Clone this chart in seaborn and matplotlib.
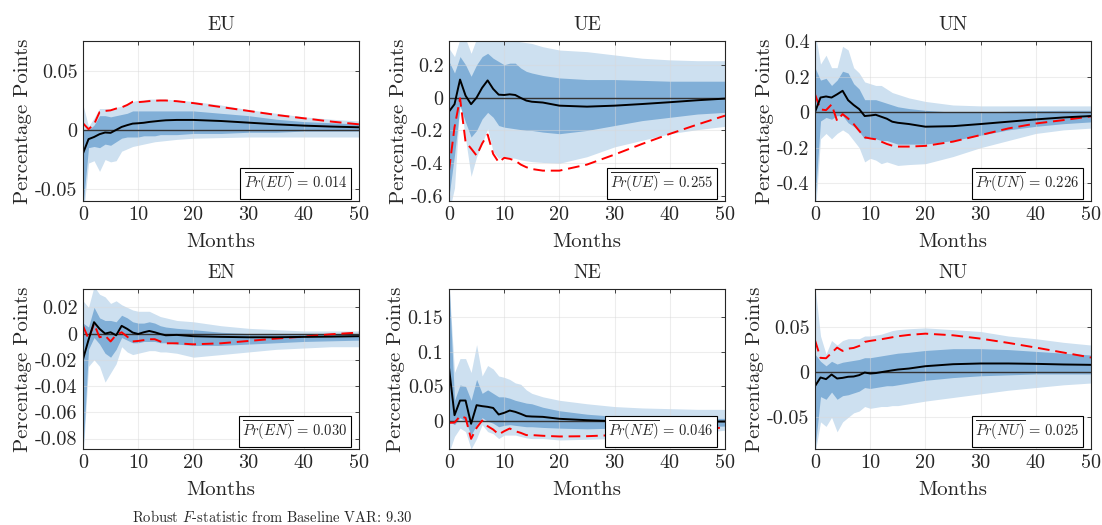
import numpy as np
import pandas as pd
import matplotlib
matplotlib.use("Agg")
import matplotlib.pyplot as plt
from matplotlib.ticker import FuncFormatter, FixedLocator
import seaborn as sns

sns.set_style("white")
plt.rcParams['font.family'] = ['cmr10', 'DejaVu Serif']
plt.rcParams['mathtext.fontset'] = 'cm'
plt.rcParams['axes.unicode_minus'] = False
plt.rcParams['axes.formatter.use_mathtext'] = False

months = [0, 1, 2, 3, 4, 5, 6, 7, 8, 9, 10, 11, 12, 13, 14, 15, 17, 20, 25, 30, 35, 40, 45, 50]
panels = ["EU", "UE", "UN", "EN", "NE", "NU"]
prob_values = ["0.014", "0.255", "0.226", "0.030", "0.046", "0.025"]

# ---- EU ----
eu_median = [-0.0198, -0.0078, -0.006, -0.0036, -0.0022, -0.0025, 0.0, 0.0025, 0.004, 0.0053, 0.0056, 0.006, 0.0067, 0.0072, 0.0077, 0.0081, 0.0084, 0.0084, 0.0075, 0.0061, 0.0047, 0.0036, 0.0028, 0.0022]
eu_alt = [0.0056, 0.0006, 0.0047, 0.015, 0.016, 0.0165, 0.018, 0.019, 0.021, 0.0237, 0.0234, 0.0238, 0.0243, 0.0246, 0.0248, 0.0248, 0.0242, 0.0226, 0.0193, 0.016, 0.0126, 0.0098, 0.007, 0.0047]
eu_outer_hi = [0.021, 0.003, 0.010, 0.018, 0.018, 0.017, 0.019, 0.020, 0.022, 0.024, 0.025, 0.025, 0.026, 0.026, 0.026, 0.026, 0.025, 0.024, 0.021, 0.017, 0.014, 0.011, 0.009, 0.0075]
eu_outer_lo = [-0.075, -0.028, -0.026, -0.035, -0.025, -0.027, -0.026, -0.018, -0.016, -0.014, -0.013, -0.012, -0.011, -0.010, -0.0095, -0.009, -0.008, -0.007, -0.0065, -0.006, -0.006, -0.006, -0.006, -0.006]
eu_inner_hi = [0.0, 0.0, 0.004, 0.012, 0.012, 0.011, 0.012, 0.013, 0.014, 0.016, 0.016, 0.016, 0.016, 0.016, 0.016, 0.016, 0.016, 0.016, 0.014, 0.012, 0.009, 0.007, 0.006, 0.005]
eu_inner_lo = [-0.065, -0.015, -0.014, -0.015, -0.012, -0.013, -0.010, -0.007, -0.006, -0.006, -0.006, -0.005, -0.005, -0.005, -0.004, -0.004, -0.004, -0.003, -0.003, -0.002, -0.002, -0.001, -0.001, -0.001]

# ---- UE ----
ue_median = [-0.085, -0.04, 0.11, 0.012, -0.04, 0.0, 0.06, 0.105, 0.053, 0.018, 0.016, 0.02, 0.016, -0.002, -0.018, -0.025, -0.03, -0.049, -0.055, -0.049, -0.039, -0.028, -0.016, -0.006]
ue_alt = [-0.445, -0.18, -0.004, -0.27, -0.31, -0.353, -0.28, -0.225, -0.343, -0.394, -0.367, -0.373, -0.384, -0.408, -0.424, -0.435, -0.445, -0.445, -0.408, -0.347, -0.282, -0.221, -0.164, -0.11]
ue_outer_hi = [0.30, 0.25, 0.36, 0.36, 0.27, 0.36, 0.36, 0.36, 0.36, 0.36, 0.36, 0.36, 0.345, 0.34, 0.335, 0.33, 0.31, 0.29, 0.28, 0.26, 0.24, 0.23, 0.225, 0.225]
ue_outer_lo = [-0.7, -0.55, -0.02, -0.25, -0.48, -0.36, -0.28, -0.19, -0.33, -0.37, -0.36, -0.365, -0.37, -0.38, -0.385, -0.39, -0.395, -0.40, -0.36, -0.30, -0.26, -0.22, -0.195, -0.175]
ue_inner_hi = [0.22, 0.15, 0.25, 0.20, 0.13, 0.20, 0.25, 0.27, 0.24, 0.22, 0.20, 0.21, 0.21, 0.18, 0.16, 0.15, 0.135, 0.12, 0.11, 0.11, 0.105, 0.10, 0.10, 0.10]
ue_inner_lo = [-0.6, -0.35, -0.05, -0.15, -0.24, -0.20, -0.13, -0.09, -0.12, -0.17, -0.18, -0.185, -0.19, -0.195, -0.20, -0.20, -0.21, -0.22, -0.20, -0.17, -0.14, -0.12, -0.10, -0.09]

# ---- UN ----
un_median = [0.0, 0.082, 0.088, 0.082, 0.1, 0.12, 0.067, 0.04, 0.017, -0.022, -0.019, -0.015, -0.026, -0.037, -0.054, -0.06, -0.067, -0.082, -0.079, -0.067, -0.054, -0.041, -0.03, -0.022]
un_alt = [0.1, 0.015, 0.011, 0.043, -0.049, -0.011, -0.036, -0.067, -0.105, -0.142, -0.148, -0.153, -0.166, -0.179, -0.189, -0.194, -0.194, -0.19, -0.166, -0.129, -0.092, -0.064, -0.045, -0.024]
un_outer_hi = [0.45, 0.27, 0.32, 0.25, 0.25, 0.37, 0.35, 0.25, 0.22, 0.17, 0.16, 0.15, 0.15, 0.13, 0.11, 0.10, 0.08, 0.06, 0.04, 0.035, 0.035, 0.035, 0.035, 0.035]
un_outer_lo = [-0.6, -0.15, -0.12, -0.15, -0.12, -0.10, -0.12, -0.16, -0.20, -0.28, -0.26, -0.27, -0.29, -0.28, -0.29, -0.30, -0.295, -0.29, -0.25, -0.20, -0.16, -0.12, -0.10, -0.09]
un_inner_hi = [0.25, 0.18, 0.19, 0.15, 0.18, 0.23, 0.22, 0.16, 0.13, 0.07, 0.07, 0.07, 0.06, 0.05, 0.04, 0.03, 0.02, 0.01, 0.0, 0.0, 0.005, 0.008, 0.01, 0.01]
un_inner_lo = [-0.5, -0.05, -0.03, -0.04, -0.02, -0.02, -0.06, -0.08, -0.11, -0.15, -0.14, -0.15, -0.16, -0.16, -0.17, -0.18, -0.18, -0.18, -0.16, -0.13, -0.10, -0.08, -0.065, -0.055]

# ---- EN ----
en_median = [-0.0196, -0.0048, 0.0087, 0.0036, 0.0, 0.001, -0.0013, 0.0059, 0.0036, 0.0008, -0.0003, 0.001, 0.002, 0.001, -0.0003, -0.0013, -0.001, -0.002, -0.0025, -0.0028, -0.0028, -0.0025, -0.0023, -0.002]
en_alt = [0.0059, -0.004, 0.0074, -0.0028, -0.0015, -0.006, -0.001, 0.001, -0.0023, -0.006, -0.0056, -0.005, -0.0043, -0.0043, -0.006, -0.0074, -0.0074, -0.0082, -0.0074, -0.0056, -0.0038, -0.0023, -0.0005, 0.0008]
en_outer_hi = [0.025, 0.02, 0.036, 0.03, 0.028, 0.023, 0.025, 0.022, 0.02, 0.018, 0.017, 0.017, 0.017, 0.015, 0.013, 0.012, 0.01, 0.009, 0.006, 0.004, 0.003, 0.002, 0.002, 0.002]
en_outer_lo = [-0.095, -0.025, -0.02, -0.025, -0.037, -0.03, -0.023, -0.01, -0.014, -0.016, -0.015, -0.014, -0.013, -0.013, -0.014, -0.014, -0.015, -0.018, -0.016, -0.014, -0.012, -0.011, -0.010, -0.010]
en_inner_hi = [0.008, 0.005, 0.02, 0.012, 0.01, 0.01, 0.009, 0.014, 0.012, 0.009, 0.008, 0.008, 0.009, 0.008, 0.006, 0.005, 0.004, 0.003, 0.001, 0.0, 0.0, 0.0, 0.0, 0.0]
en_inner_lo = [-0.09, -0.012, -0.003, -0.008, -0.015, -0.018, -0.012, -0.003, -0.005, -0.007, -0.007, -0.006, -0.006, -0.006, -0.007, -0.007, -0.008, -0.009, -0.009, -0.008, -0.007, -0.006, -0.0055, -0.005]

# ---- NE ----
ne_median = [0.077, 0.0086, 0.0297, 0.0297, -0.0038, 0.023, 0.0216, 0.0206, 0.019, 0.0096, 0.012, 0.0153, 0.0134, 0.0105, 0.0072, 0.0067, 0.0062, 0.0034, 0.0014, 0.0, -0.0005, -0.0005, -0.0005, -0.0005]
ne_alt = [-0.0024, -0.002, 0.0072, 0.0048, -0.0254, -0.0096, 0.001, -0.0072, -0.012, -0.019, -0.0144, -0.0105, -0.0144, -0.0168, -0.02, -0.02, -0.021, -0.022, -0.0216, -0.02, -0.019, -0.017, -0.0134, -0.0086]
ne_outer_hi = [0.20, 0.07, 0.09, 0.09, 0.07, 0.11, 0.065, 0.08, 0.075, 0.065, 0.063, 0.06, 0.055, 0.053, 0.045, 0.04, 0.035, 0.03, 0.025, 0.021, 0.019, 0.018, 0.017, 0.017]
ne_outer_lo = [-0.045, -0.022, -0.01, -0.015, -0.04, -0.025, -0.005, -0.015, -0.018, -0.025, -0.02, -0.02, -0.02, -0.022, -0.024, -0.025, -0.025, -0.027, -0.026, -0.025, -0.023, -0.02, -0.017, -0.013]
ne_inner_hi = [0.20, 0.03, 0.052, 0.05, 0.03, 0.06, 0.04, 0.045, 0.04, 0.035, 0.035, 0.033, 0.03, 0.028, 0.026, 0.025, 0.02, 0.015, 0.01, 0.007, 0.005, 0.005, 0.004, 0.004]
ne_inner_lo = [0.0, -0.005, 0.005, 0.0, -0.02, -0.005, 0.005, 0.0, -0.003, -0.008, -0.006, -0.005, -0.006, -0.007, -0.008, -0.008, -0.009, -0.01, -0.011, -0.01, -0.01, -0.009, -0.008, -0.007]

# ---- NU ----
nu_median = [-0.0154, -0.0059, -0.0077, -0.0026, -0.007, -0.0063, -0.0051, -0.0048, -0.0033, -0.0004, -0.0015, -0.001, 0.0, 0.001, 0.002, 0.0029, 0.004, 0.0066, 0.0088, 0.0096, 0.0096, 0.0092, 0.0085, 0.0081]
nu_alt = [0.0353, 0.0158, 0.0154, 0.0213, 0.0272, 0.0235, 0.026, 0.0268, 0.029, 0.0335, 0.0346, 0.0355, 0.0364, 0.0375, 0.0386, 0.0397, 0.0412, 0.0426, 0.0408, 0.0371, 0.0324, 0.0272, 0.0217, 0.0162]
nu_outer_hi = [0.095, 0.04, 0.02, 0.035, 0.03, 0.035, 0.037, 0.037, 0.037, 0.04, 0.04, 0.041, 0.042, 0.044, 0.046, 0.047, 0.048, 0.049, 0.047, 0.045, 0.04, 0.037, 0.033, 0.03]
nu_outer_lo = [-0.09, -0.055, -0.06, -0.05, -0.066, -0.055, -0.05, -0.045, -0.043, -0.038, -0.04, -0.039, -0.038, -0.038, -0.037, -0.037, -0.035, -0.032, -0.028, -0.024, -0.02, -0.017, -0.014, -0.012]
nu_inner_hi = [0.02, 0.012, 0.007, 0.012, 0.009, 0.011, 0.012, 0.013, 0.014, 0.016, 0.016, 0.017, 0.018, 0.019, 0.02, 0.021, 0.022, 0.024, 0.026, 0.026, 0.025, 0.023, 0.021, 0.019]
nu_inner_lo = [-0.085, -0.027, -0.03, -0.022, -0.03, -0.026, -0.025, -0.023, -0.021, -0.017, -0.018, -0.017, -0.016, -0.015, -0.015, -0.014, -0.012, -0.009, -0.006, -0.004, -0.003, -0.002, -0.002, -0.002]

y_limits = {"EU": (-0.06, 0.075), "UE": (-0.63, 0.345), "UN": (-0.5, 0.4),
            "EN": (-0.088, 0.034), "NE": (-0.04, 0.19), "NU": (-0.085, 0.092)}
y_ticks = {"EU": [-0.05, 0, 0.05], "UE": [-0.6, -0.4, -0.2, 0, 0.2],
           "UN": [-0.4, -0.2, 0, 0.2, 0.4], "EN": [-0.08, -0.06, -0.04, -0.02, 0, 0.02],
           "NE": [0, 0.05, 0.1, 0.15], "NU": [-0.05, 0, 0.05]}
x_ticks = [0, 10, 20, 30, 40, 50]

series = {
    "EU": (eu_median, eu_alt, eu_outer_lo, eu_outer_hi, eu_inner_lo, eu_inner_hi),
    "UE": (ue_median, ue_alt, ue_outer_lo, ue_outer_hi, ue_inner_lo, ue_inner_hi),
    "UN": (un_median, un_alt, un_outer_lo, un_outer_hi, un_inner_lo, un_inner_hi),
    "EN": (en_median, en_alt, en_outer_lo, en_outer_hi, en_inner_lo, en_inner_hi),
    "NE": (ne_median, ne_alt, ne_outer_lo, ne_outer_hi, ne_inner_lo, ne_inner_hi),
    "NU": (nu_median, nu_alt, nu_outer_lo, nu_outer_hi, nu_inner_lo, nu_inner_hi),
}

LIGHT = "#cde0f0"
DARK = "#81afd7"

W, H = 1102, 525
fig = plt.figure(figsize=(W / 100, H / 100), dpi=100)
lefts = [83, 449, 815]
tops = [41, 289]
aw, ah = 276, 160

def fmt(v, pos):
    return "%g" % v

for i, name in enumerate(panels):
    r, c = divmod(i, 3)
    ax = fig.add_axes([lefts[c] / W, 1 - (tops[r] + ah) / H, aw / W, ah / H])
    med, alt, olo, ohi, ilo, ihi = series[name]
    df = pd.DataFrame({"Months": months, "median": med, "alt": alt})
    ax.fill_between(months, olo, ohi, color=LIGHT, lw=0, zorder=1)
    ax.fill_between(months, ilo, ihi, color=DARK, lw=0, zorder=2)
    ax.axhline(0, color="#333333", lw=1.0, zorder=3)
    sns.lineplot(data=df, x="Months", y="median", ax=ax, color="black", lw=1.4, zorder=5)
    sns.lineplot(data=df, x="Months", y="alt", ax=ax, color="red", lw=1.4,
                 zorder=4).lines[-1].set_dashes([6, 3])
    ax.set_xlim(0, 50)
    ax.set_ylim(*y_limits[name])
    ax.xaxis.set_major_locator(FixedLocator(x_ticks))
    ax.yaxis.set_major_locator(FixedLocator(y_ticks[name]))
    ax.xaxis.set_major_formatter(FuncFormatter(fmt))
    ax.yaxis.set_major_formatter(FuncFormatter(fmt))
    ax.grid(True, color="#d9d9d9", lw=0.8)
    ax.set_axisbelow(False)
    for gl in ax.get_xgridlines() + ax.get_ygridlines():
        gl.set_zorder(2.5)
        gl.set_alpha(0.45)
    for sp in ax.spines.values():
        sp.set_color("#262626")
        sp.set_linewidth(0.8)
        sp.set_zorder(6)
    ax.tick_params(direction="in", length=3, width=0.6, labelsize=14.5,
                   colors="#262626", pad=4, top=True, right=True)
    ax.set_title(name, fontsize=14, pad=8)
    ax.set_xlabel("Months", fontsize=15, labelpad=6)
    ax.set_ylabel("Percentage Points", fontsize=15, labelpad=2)
    ax.text(0.958, 0.035, r"$\overline{Pr(%s)}\,=\,%s$" % (name, prob_values[i]),
            transform=ax.transAxes, ha="right", va="bottom", fontsize=10.5, zorder=10,
            bbox=dict(boxstyle="square,pad=0.25", fc="white", ec="black", lw=0.8))

fig.text(132 / W, 1 - 517 / H, r"Robust $F$-statistic from Baseline VAR: 9.30",
         fontsize=10.5, ha="left", va="center")

fig.savefig("out.png", dpi=100)
